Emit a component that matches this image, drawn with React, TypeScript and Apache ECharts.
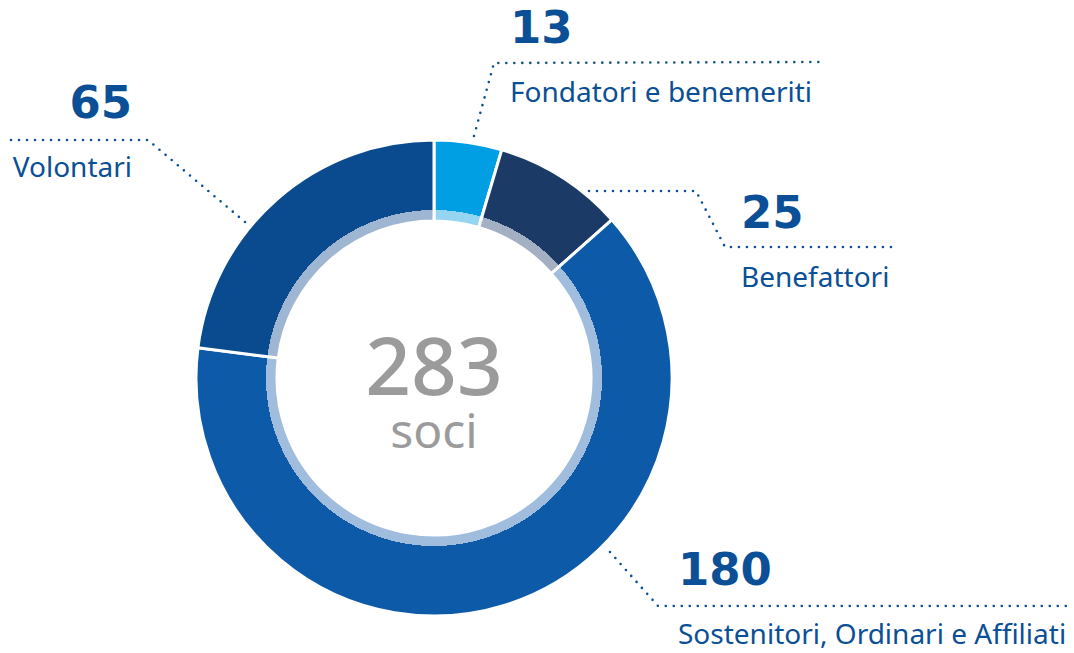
import { useEffect, useRef } from "react";
import * as echarts from "echarts";

const categories = [
  "Fondatori e benemeriti",
  "Benefattori",
  "Sostenitori, Ordinari e Affiliati",
  "Volontari",
];
const values = [13, 25, 180, 65];
const centerCaption = "soci";

const sliceColors = ["#009fe3", "#1b3a66", "#0d5ba8", "#0a4b8f"];
const bandColors = ["#94d5f1", "#a3afc3", "#a0bddd", "#9fb6d2"];

const CX = 434;
const CY = 378;
const R_OUT = 238;
const R_BAND = 168;
const R_IN = 157;
const TEXT_BLUE = "#0b4f96";

const labelPlaces: { x: number; y: number; align: string; line: number[][] }[] = [
  { x: 510, y: -22, align: "left", line: [[474, 136], [494, 63], [820, 62]] },
  { x: 741, y: 163, align: "left", line: [[581, 191], [696, 191], [725, 247], [892, 247]] },
  { x: 678, y: 520, align: "left", line: [[610, 552], [658, 606], [1072, 606]] },
  { x: 132, y: 53, align: "right", line: [[245, 222], [148, 140], [8, 140]] },
];

export default function App() {
  const ref = useRef<HTMLDivElement>(null);
  useEffect(() => {
    if (!ref.current) return;
    const chart = echarts.init(ref.current, null, { renderer: "svg" });
    const total = values.reduce((a, b) => a + b, 0);
    const split = R_BAND / R_OUT;
    const data = values.map((v, i) => ({
      name: categories[i],
      value: v,
      itemStyle: {
        color: new echarts.graphic.RadialGradient(
          CX,
          CY,
          R_OUT,
          [
            { offset: 0, color: bandColors[i] },
            { offset: split, color: bandColors[i] },
            { offset: split, color: sliceColors[i] },
            { offset: 1, color: sliceColors[i] },
          ],
          true
        ),
      },
    }));
    chart.setOption({
      animation: false,
      backgroundColor: "#ffffff",
      series: [
        {
          type: "pie",
          center: [CX, CY],
          radius: [R_IN, R_OUT],
          startAngle: 90,
          clockwise: true,
          avoidLabelOverlap: false,
          silent: true,
          itemStyle: { borderColor: "#ffffff", borderWidth: 3 },
          label: {
            show: true,
            position: "outside",
            formatter: (p: any) => `{num|${p.value}}\n{name|${p.name}}`,
            rich: {
              num: {
                fontFamily: "DejaVu Sans",
                fontWeight: "bold",
                fontSize: 45,
                lineHeight: 98,
                color: TEXT_BLUE,
              },
              name: {
                fontFamily: "Noto Sans",
                fontSize: 28,
                lineHeight: 30,
                color: TEXT_BLUE,
              },
            },
          },
          labelLine: {
            show: true,
            lineStyle: { color: TEXT_BLUE, width: 2.6, type: [0, 8], cap: "round" },
          },
          labelLayout: (params: any) => {
            const l = labelPlaces[params.dataIndex];
            return {
              x: l.x,
              y: l.y,
              align: l.align,
              verticalAlign: "top",
              labelLinePoints: l.line,
            };
          },
          data,
        },
      ],
      graphic: [
        {
          type: "text",
          x: CX,
          y: 363,
          style: {
            text: String(total),
            align: "center",
            verticalAlign: "middle",
            fill: "#9b9b9b",
            font: "500 80px 'Noto Sans'",
            lineHeight: 64,
          },
        },
        {
          type: "text",
          x: CX,
          y: 429,
          style: {
            text: centerCaption,
            align: "center",
            verticalAlign: "middle",
            fill: "#9b9b9b",
            font: "400 48px 'Noto Sans'",
            lineHeight: 48,
          },
        },
      ],
    });
    return () => chart.dispose();
  }, []);
  return (
    <div
      ref={ref}
      style={{ position: "fixed", left: 0, top: 0, width: 1074, height: 653 }}
    />
  );
}
